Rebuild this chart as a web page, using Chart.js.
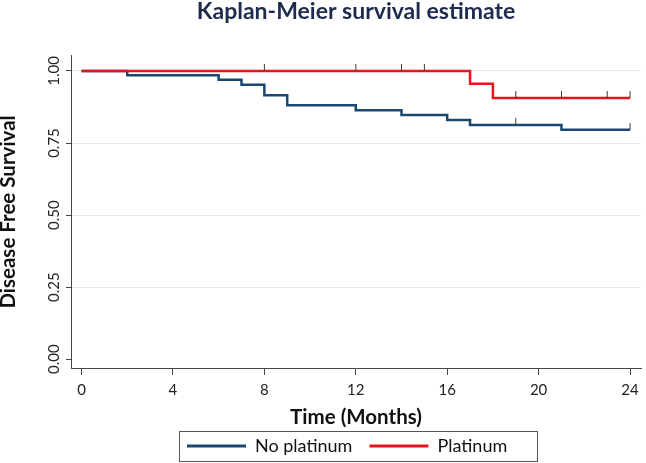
<!DOCTYPE html>
<html>
<head>
<meta charset="utf-8">
<script src="https://cdn.jsdelivr.net/npm/chart.js@4.4.1/dist/chart.umd.min.js"></script>
<style>
  html, body { margin: 0; padding: 0; background: #ffffff; }
  #wrap { width: 646px; height: 463px; }
</style>
</head>
<body>
<div id="wrap"><canvas id="c" width="646" height="463"></canvas></div>
<script>
// ---- data ----
const monthTicks = [0, 4, 8, 12, 16, 20, 24];
const survivalTicks = [0, 0.25, 0.5, 0.75, 1];

const seriesNames = ['No platinum', 'Platinum'];

const noPlatinumTime = [0, 2, 6, 7, 8, 9, 12, 14, 16, 17, 21, 24];
const noPlatinumSurv = [1, 0.985, 0.970, 0.952, 0.916, 0.881, 0.864, 0.847, 0.830, 0.813, 0.796, 0.796];

const platinumTime = [0, 17, 18, 24];
const platinumSurv = [1, 0.956, 0.906, 0.906];

const noPlatinumCensorTime = [19, 24];
const noPlatinumCensorSurv = [0.813, 0.796];

const platinumCensorTime = [8, 12, 14, 15, 19, 21, 23, 24];
const platinumCensorSurv = [1, 1, 1, 1, 0.906, 0.906, 0.906, 0.906];

// ---- helpers ----
const toPoints = (xs, ys) => xs.map((x, i) => ({ x: x, y: ys[i] }));

function censorMark() {
  const c = document.createElement('canvas');
  c.width = 3; c.height = 14;
  const g = c.getContext('2d');
  g.fillStyle = '#3a3a3a';
  g.fillRect(1, 0, 1, 7);
  return c;
}
const mark = censorMark();

const navy = '#1a476f';
const red = '#e8141c';

Chart.defaults.font.family = 'Lato, "Open Sans", sans-serif';
Chart.defaults.color = '#222';

const legendFrame = {
  id: 'legendFrame',
  afterLayout(chart) {
    const lg = chart.legend;
    const pad = lg.options.labels.padding;
    lg.left = chart.chartArea.left + 116 - pad;
  },
  afterDraw(chart) {
    const lg = chart.legend;
    const pad = lg.options.labels.padding;
    const startX = lg.left + pad;
    const itemsEnd = startX + lg.lineWidths[0] - pad;
    const rowY = lg.top + pad;
    const itemH = 18;
    const ctx = chart.ctx;
    ctx.save();
    ctx.strokeStyle = '#555';
    ctx.lineWidth = 1;
    const x0 = Math.round(startX - 8) + 0.5;
    const y0 = Math.round(rowY - 6) + 0.5;
    const x1 = Math.round(itemsEnd + 30) + 0.5;
    const y1 = Math.round(rowY + itemH + 6) + 0.5;
    ctx.strokeRect(x0, y0, x1 - x0, y1 - y0);
    ctx.restore();
  }
};

new Chart(document.getElementById('c'), {
  type: 'line',
  data: {
    datasets: [
      {
        label: seriesNames[0],
        data: toPoints(noPlatinumTime, noPlatinumSurv),
        borderColor: navy,
        backgroundColor: navy,
        borderWidth: 2.5,
        stepped: true,
        pointRadius: 0,
        fill: false,
        order: 3
      },
      {
        label: seriesNames[1],
        data: toPoints(platinumTime, platinumSurv),
        borderColor: red,
        backgroundColor: red,
        borderWidth: 2.5,
        stepped: true,
        pointRadius: 0,
        fill: false,
        order: 2
      },
      {
        label: 'censor-np',
        data: toPoints(noPlatinumCensorTime, noPlatinumCensorSurv),
        showLine: false,
        pointStyle: mark,
        pointRadius: 3,
        order: 1
      },
      {
        label: 'censor-p',
        data: toPoints(platinumCensorTime, platinumCensorSurv),
        showLine: false,
        pointStyle: mark,
        pointRadius: 3,
        order: 0
      }
    ]
  },
  options: {
    responsive: false,
    animation: false,
    events: [],
    layout: { padding: { left: 0, right: 1, top: 0, bottom: -2 } },
    plugins: {
      title: {
        display: true,
        text: 'Kaplan-Meier survival estimate',
        color: '#1f2b4d',
        fullSize: false,
        font: { size: 23, weight: 'bold', lineHeight: 1 },
        padding: { top: 0, bottom: 32 }
      },
      legend: {
        display: true,
        position: 'bottom',
        align: 'start',
        labels: {
          color: '#111',
          font: { size: 18 },
          boxWidth: 59,
          boxHeight: 3,
          padding: 17,
          filter: (item) => item.datasetIndex < 2,
          sort: (a, b) => a.datasetIndex - b.datasetIndex,
          generateLabels: (chart) => {
            const items = Chart.defaults.plugins.legend.labels.generateLabels(chart);
            items.forEach(it => { it.lineWidth = 0; it.fillStyle = it.strokeStyle; });
            return items;
          }
        }
      },
      tooltip: { enabled: false }
    },
    scales: {
      x: {
        type: 'linear',
        min: -0.46,
        max: 24.48,
        afterBuildTicks: (s) => { s.ticks = monthTicks.map(v => ({ value: v })); },
        ticks: {
          font: { size: 15, lineHeight: 2.07 },
          padding: 0,
          color: '#222',
          maxRotation: 0,
          callback: (v) => String(v)
        },
        grid: { drawOnChartArea: false, tickLength: 6, tickColor: '#444', tickWidth: 1 },
        border: { color: '#444', width: 1 },
        title: {
          display: true,
          text: 'Time (Months)',
          color: '#111',
          font: { size: 20.5, weight: 'bold', lineHeight: 1 },
          padding: { top: 0.75, bottom: -7.25 }
        }
      },
      y: {
        type: 'linear',
        min: -0.034,
        max: 1.0555,
        afterBuildTicks: (s) => { s.ticks = survivalTicks.map(v => ({ value: v })); },
        afterFit: (s) => { s.width = 71; },
        ticks: {
          font: { size: 15 },
          color: '#222',
          minRotation: 90,
          maxRotation: 90,
          crossAlign: 'center',
          padding: -3,
          callback: (v) => Number(v).toFixed(2)
        },
        grid: {
          color: (ctx) => (ctx.tick && ctx.tick.value === 0) ? 'rgba(0,0,0,0)' : '#e2eced',
          lineWidth: 1,
          tickLength: 5,
          tickColor: '#444',
          tickWidth: 1
        },
        border: { color: '#444', width: 1 },
        title: {
          display: true,
          text: 'Disease Free Survival',
          color: '#111',
          font: { size: 20.5, weight: 'bold', lineHeight: 1 },
          padding: { top: -2, bottom: 0 }
        }
      }
    }
  },
  plugins: [legendFrame]
});
</script>
</body>
</html>
